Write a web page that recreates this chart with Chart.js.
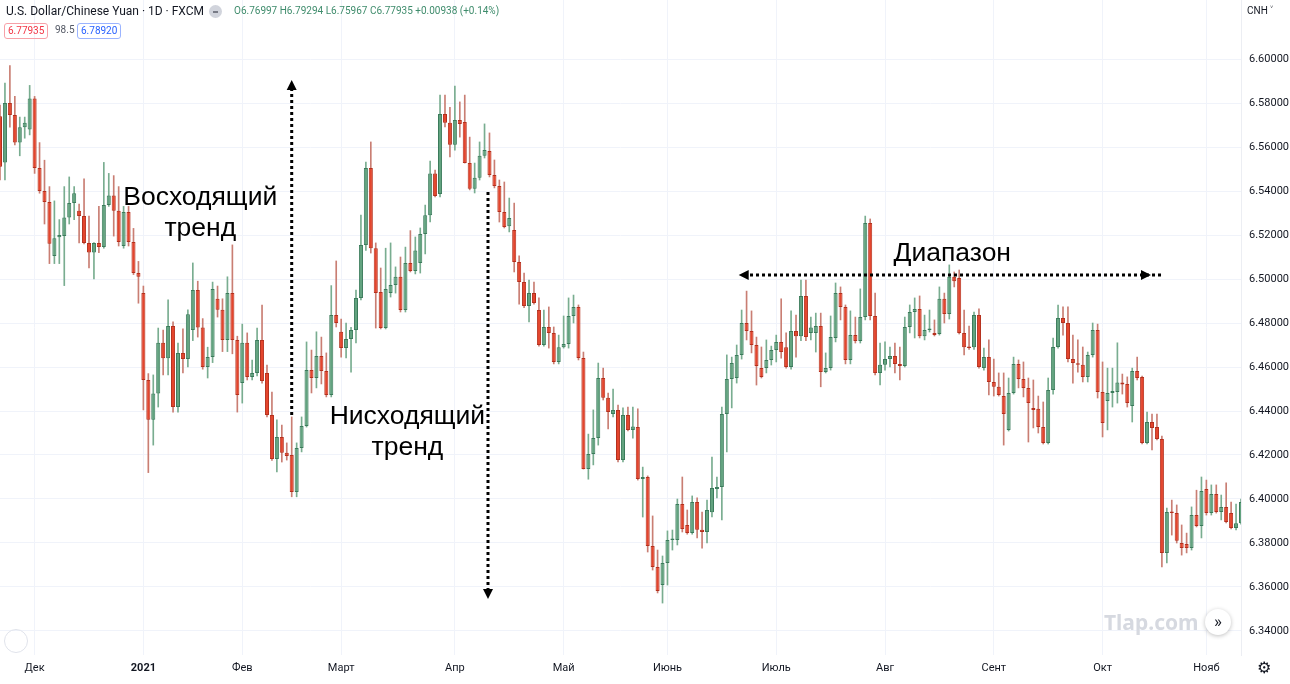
<!DOCTYPE html>
<html lang="ru">
<head>
<meta charset="utf-8">
<title>USD/CNH 1D</title>
<script src="https://cdn.jsdelivr.net/npm/chart.js@4.4.1/dist/chart.umd.min.js"></script>
<style>
  html, body { margin: 0; padding: 0; background: #ffffff; }
  #wrap { position: relative; width: 1290px; height: 684px; overflow: hidden; font-family: Roboto, "Noto Sans", sans-serif; }
  #myChart { position: absolute; left: 0; top: 0; }
  .hdr { position: absolute; white-space: nowrap; }
  #title { left: 6px; top: 4px; font-size: 12px; color: #131722; }
  #dot { left: 209px; top: 5px; width: 13px; height: 13px; border-radius: 50%; background: #d1d4dc; }
  #dot::after { content: ""; position: absolute; left: 4px; top: 6px; width: 5px; height: 1.5px; background: #787b86; }
  #ohlc { left: 234px; top: 5px; font-size: 10px; color: #3f8c6c; }
  .box { position: absolute; top: 23px; height: 14px; line-height: 14px; font-size: 10px; padding: 0 3px; border-radius: 3px; }
  #bid { left: 4px; border: 1px solid #f7a1a8; color: #f23645; }
  #spread { left: 55px; top: 24px; font-size: 10px; color: #555a66; position: absolute; }
  #ask { left: 77px; border: 1px solid #9bb4ff; color: #2962ff; }
  #cnh { left: 1247px; top: 3px; font-size: 10px; color: #131722; }
  #logo { left: 4px; top: 629px; width: 22px; height: 22px; border: 1px solid #e0e3eb; border-radius: 50%; }
  #water { left: 1104px; top: 608px; font-size: 21px; font-weight: bold; color: #d6d9e0; font-family: "Noto Sans", sans-serif; }
  #goto { left: 1205px; top: 609px; width: 26px; height: 26px; border-radius: 50%; background: #fff;
          box-shadow: 0 1px 4px rgba(0,0,0,0.25); text-align: center; line-height: 24px; font-size: 17px; color: #131722; }
  #gear { left: 1257px; top: 658px; font-size: 16px; color: #131722; font-family: "DejaVu Sans", sans-serif; }
</style>
</head>
<body>
<div id="wrap">
  <canvas id="myChart" width="1290" height="684"></canvas>
  <div class="hdr" id="title">U.S. Dollar/Chinese Yuan · 1D · FXCM</div>
  <div class="hdr" id="dot"></div>
  <div class="hdr" id="ohlc">O6.76997 H6.79294 L6.75967 C6.77935 +0.00938 (+0.14%)</div>
  <div class="box" id="bid">6.77935</div>
  <div id="spread">98.5</div>
  <div class="box" id="ask">6.78920</div>
  <div class="hdr" id="cnh">CNH ˅</div>
  <div class="hdr" id="logo"></div>
  <div class="hdr" id="water">Tlap.com</div>
  <div class="hdr" id="goto">»</div>
  <div class="hdr" id="gear">⚙</div>
</div>

<script>
// Daily candles USD/CNH, 20 Nov 2020 - 10 Nov 2021
const openPrices = [
  6.5740, 6.5530, 6.5800, 6.5745, 6.5620, 6.5690, 6.5680, 6.5820, 6.5505, 6.5400,
  6.5350, 6.5105, 6.5190, 6.5195, 6.5280, 6.5345, 6.5310, 6.5286, 6.5164, 6.5120,
  6.5164, 6.5145, 6.5336, 6.5380, 6.5310, 6.5150, 6.5305, 6.5168, 6.5027, 6.4936,
  6.4541, 6.4360, 6.4480, 6.4710, 6.4640, 6.4786, 6.4418, 6.4664, 6.4636, 6.4768,
  6.4950, 6.4780, 6.4600, 6.4645, 6.4910, 6.4860, 6.4723, 6.4936, 6.4723, 6.4527,
  6.4710, 6.4555, 6.4573, 6.4723, 6.4573, 6.4382, 6.4182, 6.4282, 6.4210, 6.4200,
  6.4032, 6.4232, 6.4332, 6.4586, 6.4550, 6.4650, 6.4582, 6.4473, 6.4836, 6.4760,
  6.4686, 6.4727, 6.4768, 6.4914, 6.5155, 6.5505, 6.5140, 6.4941, 6.4777, 6.4936,
  6.4973, 6.5010, 6.4859, 6.5073, 6.5036, 6.5073, 6.5205, 6.5290, 6.5480, 6.5386,
  6.5750, 6.5710, 6.5610, 6.5723, 6.5714, 6.5527, 6.5410, 6.5460, 6.5560, 6.5582,
  6.5473, 6.5423, 6.5305, 6.5240, 6.5223, 6.5077, 6.4986, 6.4877, 6.4936, 6.4859,
  6.4700, 6.4782, 6.4755, 6.4623, 6.4690, 6.4705, 6.4832, 6.4873, 6.4641, 6.4136,
  6.4205, 6.4277, 6.4550, 6.4460, 6.4386, 6.4405, 6.4177, 6.4382, 6.4314, 6.4327,
  6.4091, 6.4100, 6.3786, 6.3691, 6.3609, 6.3709, 6.3814, 6.3814, 6.3977, 6.3882,
  6.3845, 6.3986, 6.3860, 6.3850, 6.3940, 6.4045, 6.4055, 6.4386, 6.4545, 6.4550,
  6.4655, 6.4800, 6.4764, 6.4700, 6.4595, 6.4595, 6.4632, 6.4677, 6.4714, 6.4690,
  6.4600, 6.4764, 6.4740, 6.4923, 6.4755, 6.4755, 6.4786, 6.4577, 6.4595, 6.4732,
  6.4936, 6.4873, 6.4632, 6.4745, 6.4718, 6.4827, 6.5255, 6.4832, 6.4573, 6.4610,
  6.4636, 6.4650, 6.4614, 6.4605, 6.4782, 6.4850, 6.4864, 6.4740, 6.4768, 6.4755,
  6.4750, 6.4910, 6.4841, 6.5010, 6.5005, 6.4755, 6.4690, 6.4690, 6.4836, 6.4595,
  6.4645, 6.4532, 6.4510, 6.4468, 6.4314, 6.4482, 6.4614, 6.4545, 6.4505, 6.4414,
  6.4410, 6.4327, 6.4255, 6.4495, 6.4691, 6.4823, 6.4800, 6.4636, 6.4614, 6.4610,
  6.4555, 6.4655, 6.4768, 6.4486, 6.4445, 6.4482, 6.4486, 6.4530, 6.4523, 6.4423,
  6.4582, 6.4555, 6.4255, 6.4350, 6.4327, 6.4273, 6.3755, 6.3941, 6.3936, 6.3800,
  6.3795, 6.3777, 6.3927, 6.3877, 6.4045, 6.3936, 6.4023, 6.3941, 6.3964, 6.3936,
  6.3868, 6.3890
];
const highPrices = [
  6.5790, 6.5890, 6.5970, 6.5830, 6.5736, 6.5736, 6.5880, 6.5830, 6.5620, 6.5540,
  6.5420, 6.5355, 6.5270, 6.5420, 6.5464, 6.5420, 6.5340, 6.5455, 6.5286, 6.5165,
  6.5330, 6.5530, 6.5480, 6.5470, 6.5420, 6.5330, 6.5330, 6.5230, 6.5080, 6.4968,
  6.4570, 6.4564, 6.4777, 6.4768, 6.4905, 6.4805, 6.4709, 6.4773, 6.4860, 6.5073,
  6.4990, 6.4820, 6.4690, 6.4986, 6.4968, 6.4910, 6.5010, 6.5155, 6.4740, 6.4795,
  6.4755, 6.4632, 6.4777, 6.4882, 6.4609, 6.4486, 6.4360, 6.4336, 6.4255, 6.4373,
  6.4255, 6.4373, 6.4714, 6.4677, 6.4760, 6.4736, 6.4664, 6.4970, 6.5082, 6.4818,
  6.4800, 6.4780, 6.4950, 6.5290, 6.5532, 6.5623, 6.5164, 6.5050, 6.5140, 6.5164,
  6.5055, 6.5100, 6.5145, 6.5220, 6.5191, 6.5232, 6.5336, 6.5536, 6.5495, 6.5836,
  6.5836, 6.5780, 6.5877, 6.5805, 6.5836, 6.5645, 6.5527, 6.5623, 6.5705, 6.5664,
  6.5541, 6.5450, 6.5441, 6.5368, 6.5345, 6.5105, 6.5027, 6.4995, 6.4986, 6.4914,
  6.4859, 6.4873, 6.4782, 6.4745, 6.4832, 6.4914, 6.4927, 6.4882, 6.4668, 6.4295,
  6.4405, 6.4618, 6.4595, 6.4482, 6.4500, 6.4427, 6.4414, 6.4418, 6.4418, 6.4410,
  6.4145, 6.4105, 6.3923, 6.3768, 6.3741, 6.3855, 6.3859, 6.4000, 6.4100, 6.3950,
  6.4014, 6.4005, 6.3941, 6.3995, 6.4190, 6.4100, 6.4418, 6.4655, 6.4645, 6.4700,
  6.4859, 6.4945, 6.4855, 6.4736, 6.4691, 6.4723, 6.4695, 6.4745, 6.4910, 6.4755,
  6.4855, 6.4836, 6.4995, 6.4995, 6.4827, 6.4845, 6.4845, 6.4664, 6.4832, 6.4982,
  6.4964, 6.4882, 6.4855, 6.4827, 6.4955, 6.5286, 6.5273, 6.4936, 6.4709, 6.4714,
  6.4691, 6.4709, 6.4691, 6.4827, 6.4882, 6.4914, 6.4923, 6.4836, 6.4859, 6.4814,
  6.4964, 6.4936, 6.5064, 6.5032, 6.5041, 6.4859, 6.4786, 6.4850, 6.4864, 6.4686,
  6.4723, 6.4636, 6.4573, 6.4573, 6.4550, 6.4645, 6.4632, 6.4623, 6.4550, 6.4541,
  6.4468, 6.4441, 6.4550, 6.4732, 6.4882, 6.4873, 6.4873, 6.4745, 6.4723, 6.4691,
  6.4668, 6.4800, 6.4795, 6.4623, 6.4595, 6.4595, 6.4710, 6.4568, 6.4555, 6.4595,
  6.4645, 6.4559, 6.4395, 6.4386, 6.4386, 6.4286, 6.3959, 6.3995, 6.3973, 6.3882,
  6.3845, 6.3964, 6.4040, 6.4100, 6.4086, 6.4064, 6.4064, 6.4018, 6.4073, 6.3986,
  6.3977, 6.4000
];
const lowPrices = [
  6.5450, 6.5450, 6.5690, 6.5610, 6.5560, 6.5640, 6.5655, 6.5480, 6.5390, 6.5250,
  6.5070, 6.5070, 6.5070, 6.4970, 6.5250, 6.5270, 6.5164, 6.5160, 6.5050, 6.5000,
  6.5120, 6.5140, 6.5330, 6.5195, 6.5150, 6.5140, 6.5150, 6.5020, 6.4890, 6.4405,
  6.4120, 6.4245, 6.4418, 6.4564, 6.4564, 6.4395, 6.4395, 6.4573, 6.4600, 6.4720,
  6.4736, 6.4590, 6.4550, 6.4620, 6.4827, 6.4670, 6.4670, 6.4660, 6.4395, 6.4436,
  6.4541, 6.4541, 6.4560, 6.4527, 6.4373, 6.4175, 6.4123, 6.4168, 6.4177, 6.4010,
  6.4010, 6.4214, 6.4327, 6.4482, 6.4505, 6.4523, 6.4464, 6.4464, 6.4782, 6.4645,
  6.4641, 6.4577, 6.4709, 6.4905, 6.5130, 6.5118, 6.4777, 6.4773, 6.4773, 6.4918,
  6.4936, 6.4850, 6.4850, 6.5032, 6.5023, 6.5027, 6.5114, 6.5259, 6.5373, 6.5373,
  6.5691, 6.5555, 6.5586, 6.5645, 6.5527, 6.5405, 6.5391, 6.5450, 6.5550, 6.5464,
  6.5414, 6.5259, 6.5232, 6.5214, 6.5032, 6.4886, 6.4870, 6.4805, 6.4886, 6.4695,
  6.4695, 6.4686, 6.4614, 6.4614, 6.4686, 6.4686, 6.4800, 6.4632, 6.4136, 6.4090,
  6.4155, 6.4245, 6.4450, 6.4318, 6.4373, 6.4168, 6.4168, 6.4309, 6.4277, 6.4086,
  6.3918, 6.3759, 6.3677, 6.3573, 6.3527, 6.3609, 6.3768, 6.3791, 6.3850, 6.3840,
  6.3840, 6.3823, 6.3777, 6.3800, 6.3918, 6.4005, 6.3905, 6.4214, 6.4414, 6.4527,
  6.4636, 6.4723, 6.4664, 6.4518, 6.4550, 6.4573, 6.4609, 6.4623, 6.4640, 6.4595,
  6.4590, 6.4645, 6.4720, 6.4720, 6.4723, 6.4668, 6.4510, 6.4573, 6.4586, 6.4714,
  6.4814, 6.4614, 6.4614, 6.4709, 6.4709, 6.4814, 6.4814, 6.4564, 6.4518, 6.4586,
  6.4600, 6.4573, 6.4541, 6.4600, 6.4755, 6.4732, 6.4732, 6.4723, 6.4759, 6.4741,
  6.4745, 6.4800, 6.4818, 6.4964, 6.4750, 6.4655, 6.4680, 6.4680, 6.4595, 6.4586,
  6.4473, 6.4468, 6.4468, 6.4245, 6.4309, 6.4477, 6.4505, 6.4464, 6.4259, 6.4323,
  6.4300, 6.4250, 6.4250, 6.4477, 6.4686, 6.4745, 6.4623, 6.4527, 6.4577, 6.4532,
  6.4532, 6.4645, 6.4459, 6.4282, 6.4314, 6.4418, 6.4436, 6.4477, 6.4418, 6.4350,
  6.4541, 6.4250, 6.4250, 6.4223, 6.4268, 6.3691, 6.3709, 6.3836, 6.3800, 6.3745,
  6.3755, 6.3768, 6.3873, 6.3823, 6.3927, 6.3927, 6.3936, 6.3905, 6.3891, 6.3864,
  6.3859, 6.3886
];
const closePrices = [
  6.5510, 6.5800, 6.5745, 6.5620, 6.5690, 6.5710, 6.5820, 6.5505, 6.5400, 6.5350,
  6.5160, 6.5185, 6.5200, 6.5280, 6.5345, 6.5390, 6.5286, 6.5164, 6.5120, 6.5164,
  6.5145, 6.5336, 6.5380, 6.5310, 6.5168, 6.5305, 6.5168, 6.5027, 6.5010, 6.4541,
  6.4360, 6.4480, 6.4710, 6.4640, 6.4786, 6.4418, 6.4664, 6.4636, 6.4840, 6.4950,
  6.4780, 6.4600, 6.4645, 6.4955, 6.4860, 6.4723, 6.4936, 6.4723, 6.4473, 6.4710,
  6.4555, 6.4573, 6.4723, 6.4536, 6.4382, 6.4182, 6.4282, 6.4210, 6.4195, 6.4032,
  6.4232, 6.4332, 6.4586, 6.4550, 6.4650, 6.4582, 6.4473, 6.4836, 6.4800, 6.4686,
  6.4727, 6.4768, 6.4914, 6.5155, 6.5505, 6.5140, 6.4936, 6.4777, 6.4955, 6.4973,
  6.5010, 6.4859, 6.5073, 6.5036, 6.5130, 6.5205, 6.5290, 6.5480, 6.5377, 6.5750,
  6.5710, 6.5610, 6.5723, 6.5705, 6.5527, 6.5410, 6.5460, 6.5560, 6.5586, 6.5473,
  6.5423, 6.5305, 6.5236, 6.5277, 6.5077, 6.4986, 6.4877, 6.4936, 6.4891, 6.4700,
  6.4782, 6.4755, 6.4623, 6.4690, 6.4705, 6.4832, 6.4873, 6.4641, 6.4136, 6.4205,
  6.4277, 6.4550, 6.4460, 6.4395, 6.4405, 6.4177, 6.4382, 6.4314, 6.4330, 6.4091,
  6.4100, 6.3786, 6.3691, 6.3582, 6.3709, 6.3814, 6.3820, 6.3977, 6.3864, 6.3845,
  6.3986, 6.3860, 6.3850, 6.3950, 6.4050, 6.4055, 6.4386, 6.4545, 6.4618, 6.4655,
  6.4800, 6.4764, 6.4700, 6.4605, 6.4555, 6.4632, 6.4677, 6.4714, 6.4668, 6.4600,
  6.4764, 6.4740, 6.4923, 6.4736, 6.4780, 6.4786, 6.4577, 6.4595, 6.4736, 6.4936,
  6.4873, 6.4632, 6.4745, 6.4718, 6.4827, 6.5255, 6.4832, 6.4573, 6.4610, 6.4636,
  6.4650, 6.4614, 6.4605, 6.4782, 6.4850, 6.4864, 6.4740, 6.4768, 6.4775, 6.4745,
  6.4910, 6.4841, 6.5010, 6.4990, 6.4755, 6.4690, 6.4686, 6.4836, 6.4600, 6.4645,
  6.4532, 6.4510, 6.4473, 6.4386, 6.4482, 6.4614, 6.4545, 6.4505, 6.4436, 6.4405,
  6.4327, 6.4255, 6.4495, 6.4691, 6.4823, 6.4800, 6.4636, 6.4618, 6.4610, 6.4555,
  6.4655, 6.4768, 6.4486, 6.4345, 6.4482, 6.4491, 6.4530, 6.4520, 6.4436, 6.4582,
  6.4550, 6.4255, 6.4350, 6.4323, 6.4273, 6.3755, 6.3941, 6.3936, 6.3810, 6.3777,
  6.3777, 6.3927, 6.3877, 6.4036, 6.3936, 6.4023, 6.3941, 6.3964, 6.3895, 6.3868,
  6.3890, 6.3986
];

// Month ticks on the time axis
const monthTickIndex = [7, 29, 49, 69, 92, 114, 135, 157, 179, 201, 223, 244];
const monthTickLabels = ['Дек', '2021', 'Фев', 'Март', 'Апр', 'Май', 'Июнь', 'Июль', 'Авг', 'Сент', 'Окт', 'Нояб'];

// Price ticks on the right axis
const priceTicks = [6.34, 6.36, 6.38, 6.40, 6.42, 6.44, 6.46, 6.48, 6.50, 6.52, 6.54, 6.56, 6.58, 6.60];
const priceMin = 6.32909;
const priceMax = 6.62682;

// Hand-drawn annotations: [category index, price]
const annotationArrows = [
  { from: [59, 6.4382], to: [59, 6.5905], both: false },
  { from: [98.7, 6.5395], to: [98.7, 6.3545], both: false },
  { from: [232.8, 6.5018], to: [149.4, 6.5018], both: true }
];
const annotationTexts = [
  { lines: ['Восходящий', 'тренд'], at: [40.5, 6.5298] },
  { lines: ['Нисходящий', 'тренд'], at: [82.4, 6.4302] },
  { lines: ['Диапазон'], at: [192.6, 6.5114] }
];

// Categories: trading days (weekdays, without 25 Dec and 1 Jan)
const categories = [];
for (let d = new Date(Date.UTC(2020, 10, 20)); categories.length < closePrices.length; d.setUTCDate(d.getUTCDate() + 1)) {
  const day = d.getUTCDay();
  const iso = d.toISOString().slice(0, 10);
  if (day === 0 || day === 6 || iso === '2020-12-25' || iso === '2021-01-01') continue;
  categories.push(iso);
}

const upBody = '#62a37f', upBorder = '#3b7b5b', upWick = '#79ad90';
const downBody = '#e4452d', downBorder = '#b5301d', downWick = '#c97e73';
const isUp = closePrices.map((c, i) => c >= openPrices[i]);

// Draws dotted arrows and captions on top of the candles
const annotationPlugin = {
  id: 'annotations',
  afterDatasetsDraw(chart) {
    const { ctx, scales: { x, y } } = chart;
    ctx.save();
    ctx.fillStyle = '#000';
    ctx.strokeStyle = '#000';

    const head = (tx, ty, ux, uy) => {
      // triangle with tip at (tx, ty) pointing along (ux, uy)
      const len = 10, half = 5;
      ctx.beginPath();
      ctx.moveTo(tx, ty);
      ctx.lineTo(tx - ux * len - uy * half, ty - uy * len + ux * half);
      ctx.lineTo(tx - ux * len + uy * half, ty - uy * len - ux * half);
      ctx.closePath();
      ctx.fill();
    };

    annotationArrows.forEach(a => {
      const x1 = x.getPixelForValue(a.from[0]), y1 = y.getPixelForValue(a.from[1]);
      const x2 = x.getPixelForValue(a.to[0]), y2 = y.getPixelForValue(a.to[1]);
      const dist = Math.hypot(x2 - x1, y2 - y1);
      const ux = (x2 - x1) / dist, uy = (y2 - y1) / dist;
      const sx = a.both ? x1 - ux * 10 : x1, sy = a.both ? y1 - uy * 10 : y1;
      ctx.lineWidth = 3;
      ctx.setLineDash([3, 3]);
      ctx.beginPath();
      ctx.moveTo(sx, sy);
      ctx.lineTo(x2 - ux * 10, y2 - uy * 10);
      ctx.stroke();
      ctx.setLineDash([]);
      head(x2, y2, ux, uy);
      if (a.both) head(x1, y1, -ux, -uy);
    });

    ctx.font = '26.5px "Liberation Sans", Arial, sans-serif';
    ctx.textAlign = 'center';
    ctx.textBaseline = 'middle';
    annotationTexts.forEach(t => {
      const cx = x.getPixelForValue(t.at[0]);
      const cy = y.getPixelForValue(t.at[1]);
      const lh = 31;
      const top = cy - (t.lines.length - 1) * lh / 2;
      t.lines.forEach((line, i) => ctx.fillText(line, cx, top + i * lh));
    });
    ctx.restore();
  }
};

const ctx = document.getElementById('myChart').getContext('2d');

new Chart(ctx, {
  type: 'bar',
  data: {
    labels: categories,
    datasets: [
      {
        // candle bodies
        label: 'body',
        data: openPrices.map((o, i) => [o, closePrices[i]]),
        backgroundColor: isUp.map(u => u ? upBody : downBody),
        borderColor: isUp.map(u => u ? upBorder : downBorder),
        borderWidth: 1,
        borderSkipped: false,
        barPercentage: 0.82,
        categoryPercentage: 1,
        minBarLength: 1.5,
        grouped: false,
        order: 0
      },
      {
        // wicks
        label: 'wick',
        data: lowPrices.map((l, i) => [l, highPrices[i]]),
        backgroundColor: isUp.map(u => u ? upWick : downWick),
        borderWidth: 0,
        barThickness: 1,
        grouped: false,
        order: 1
      }
    ]
  },
  options: {
    responsive: false,
    animation: false,
    layout: { padding: 0, autoPadding: false },
    plugins: {
      legend: { display: false },
      tooltip: { enabled: false }
    },
    scales: {
      x: {
        type: 'category',
        offset: false,
        grid: { color: '#f0f3fa', drawTicks: false, offset: false },
        border: { display: false },
        ticks: {
          autoSkip: false,
          maxRotation: 0,
          padding: 7,
          color: '#131722',
          font: ctx => ({ family: 'Roboto', size: 11, weight: ctx.tick && ctx.tick.label === '2021' ? 'bold' : 'normal' }),
          callback: (value, index) => monthTickLabels[index]
        },
        afterBuildTicks: scale => { scale.ticks = monthTickIndex.map(v => ({ value: v })); },
        afterFit: scale => {
          scale.height = 29;
          scale.paddingLeft = 0;
          scale.paddingRight = 0;
        }
      },
      y: {
        position: 'right',
        min: priceMin,
        max: priceMax,
        grid: { color: '#f0f3fa', drawTicks: false },
        border: { display: true, color: '#eceef3' },
        ticks: {
          padding: 8,
          color: '#131722',
          font: { family: 'Roboto', size: 11 },
          callback: v => v.toFixed(5)
        },
        afterBuildTicks: scale => { scale.ticks = priceTicks.map(v => ({ value: v })); },
        afterFit: scale => {
          scale.width = 49;
          scale.paddingTop = 0;
          scale.paddingBottom = 0;
        }
      }
    }
  },
  plugins: [annotationPlugin]
});
</script>
</body>
</html>
